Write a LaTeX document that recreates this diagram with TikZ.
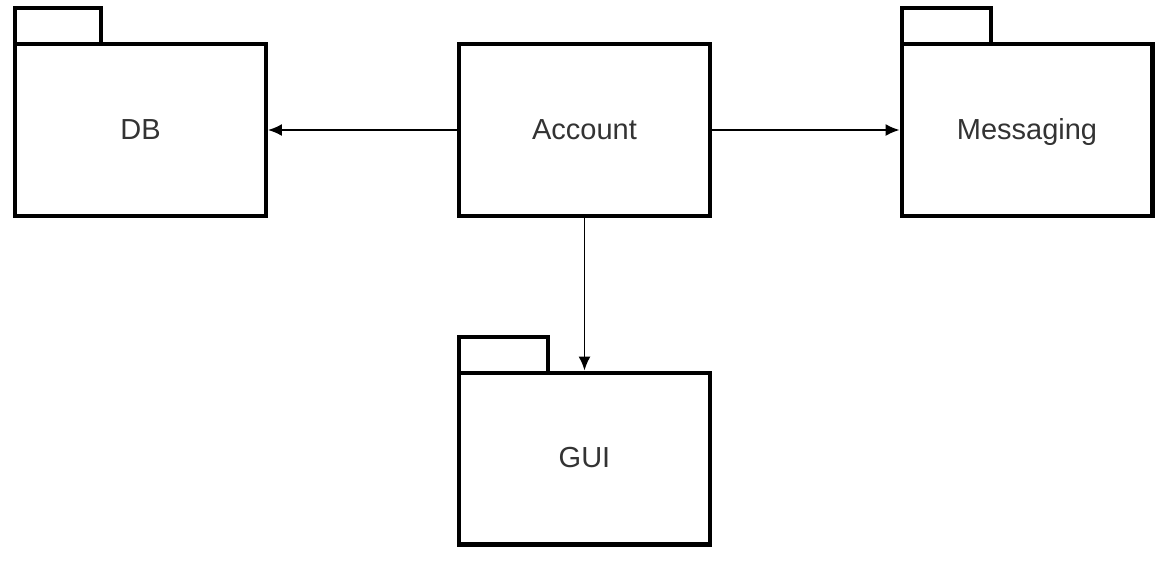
\documentclass[tikz,border=0pt]{standalone}
\usepackage{fontspec}
\setmainfont{Liberation Sans}
\usetikzlibrary{arrows.meta}
\begin{document}
\begin{tikzpicture}[x=0.02cm,y=-0.02cm,every node/.style={font=\fontsize{16.5}{19}\selectfont,text=black!80},
  pkg/.style={draw,line width=2.3pt,minimum width=5.02cm,minimum height=3.44cm,inner sep=0pt,outer sep=0pt,
    text height=1.04em,text depth=0pt},
  tab/.style={draw,line width=2.3pt},
  dep/.style={line width=1.1pt,shorten >=1.1pt,shorten <=1.1pt,-{Latex[length=2.8mm,width=2.4mm]}}]
\useasboundingbox (0,0) rectangle (1165,566);
\node[pkg] (db) at (140.5,130) {DB}; \node[pkg] (acc) at (584.5,130) {Account};
\node[pkg] (msg) at (1027,130) {Messaging}; \node[pkg] (gui) at (584.5,458.5) {GUI};
\draw[tab] (db.north west) rectangle ++(86,-36); \draw[tab] (msg.north west) rectangle ++(89,-36);
\draw[tab] (gui.north west) rectangle ++(89,-36);
\draw[dep] (acc) -- (db); \draw[dep] (acc) -- (msg); \draw[dep] (acc) -- (gui);
\end{tikzpicture}
\end{document}
